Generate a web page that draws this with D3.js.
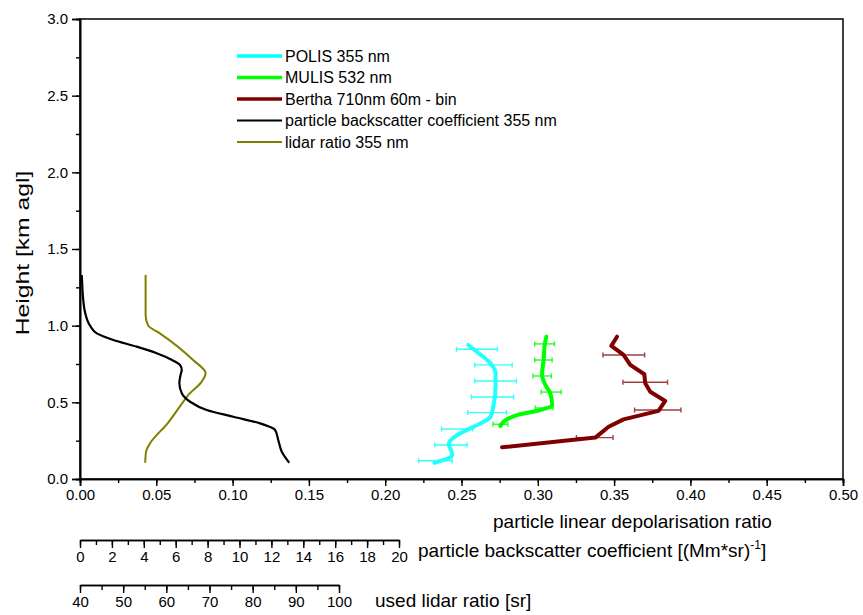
<!DOCTYPE html>
<html>
<head>
<meta charset="utf-8">
<script src="https://cdn.jsdelivr.net/npm/d3@7"></script>
<style>
  html, body { margin: 0; padding: 0; background: #fff; }
  svg { display: block; font-family: "Liberation Sans", Arial, sans-serif; }
</style>
</head>
<body>
<svg id="chart" width="863" height="615"></svg>
<script>
// Height grid and profiles (height in km agl)
const polisHeight = [0.874, 0.82, 0.755, 0.69, 0.602, 0.494, 0.406, 0.341, 0.287, 0.232, 0.157, 0.124, 0.106];
const polisDepol  = [0.2544, 0.2613, 0.269, 0.2723, 0.2723, 0.2712, 0.269, 0.258, 0.2472, 0.2417, 0.2439, 0.2384, 0.2323];
const polisErrHeight = [0.846, 0.744, 0.639, 0.535, 0.433, 0.326, 0.222, 0.119];
const polisErrLow    = [0.2467, 0.2587, 0.2587, 0.2565, 0.2541, 0.2369, 0.2325, 0.2219];
const polisErrHigh   = [0.2734, 0.2832, 0.286, 0.2842, 0.2795, 0.2574, 0.2537, 0.2439];

const mulisHeight = [0.928, 0.874, 0.787, 0.678, 0.613, 0.559, 0.483, 0.45, 0.417, 0.374, 0.346];
const mulisDepol  = [0.3056, 0.3045, 0.3039, 0.3028, 0.305, 0.3082, 0.3094, 0.3017, 0.2865, 0.2777, 0.2755];
const mulisErrHeight = [0.881, 0.776, 0.672, 0.567, 0.463, 0.357];
const mulisErrLow    = [0.298, 0.298, 0.2969, 0.3022, 0.2984, 0.2707];
const mulisErrHigh   = [0.3109, 0.3094, 0.3089, 0.3153, 0.31, 0.2803];

const berthaHeight = [0.928, 0.868, 0.809, 0.744, 0.683, 0.624, 0.569, 0.509, 0.444, 0.389, 0.341, 0.27, 0.207];
const berthaDepol  = [0.3519, 0.3482, 0.3562, 0.3606, 0.3698, 0.3704, 0.3737, 0.3835, 0.3791, 0.3562, 0.3464, 0.3377, 0.2766];
const berthaErrHeight = [0.809, 0.631, 0.45, 0.27];
const berthaErrLow    = [0.3427, 0.3558, 0.3634, 0.3253];
const berthaErrHigh   = [0.37, 0.385, 0.3938, 0.3493];

const bscHeight = [1.33, 1.29, 1.21, 1.09, 1.0, 0.95, 0.907, 0.863, 0.82, 0.776, 0.744, 0.711, 0.69, 0.624, 0.559, 0.504, 0.45, 0.406, 0.363, 0.32, 0.254, 0.178, 0.106];
const bscValue  = [0.11, 0.13, 0.17, 0.31, 0.63, 1.05, 2.09, 3.55, 4.81, 5.77, 6.27, 6.38, 6.33, 6.23, 6.38, 6.9, 7.94, 9.61, 11.29, 12.23, 12.43, 12.65, 13.12];

const lrHeight = [1.33, 1.07, 1.0, 0.95, 0.776, 0.69, 0.635, 0.548, 0.515, 0.363, 0.232, 0.178, 0.106];
const lrValue  = [55.2, 55.2, 55.8, 58.5, 66.2, 69.1, 68.2, 65.1, 64.2, 60.3, 56.2, 55.3, 55.1];

// Axis ticks
const heightTicks = [0, 0.5, 1.0, 1.5, 2.0, 2.5, 3.0];
const depolTicks  = [0, 0.05, 0.1, 0.15, 0.2, 0.25, 0.3, 0.35, 0.4, 0.45, 0.5];
const bscTicks    = [0, 2, 4, 6, 8, 10, 12, 14, 16, 18, 20];
const lrTicks     = [40, 50, 60, 70, 80, 90, 100];

const legendLabels = ["POLIS 355 nm", "MULIS 532 nm", "Bertha 710nm 60m - bin",
                      "particle backscatter coefficient 355 nm", "lidar ratio 355 nm"];

const svg = d3.select("#chart");

const y    = d3.scaleLinear().domain([0, 3]).range([479, 19]);
const xDep = d3.scaleLinear().domain([0, 0.5]).range([80, 843]);
const xBsc = d3.scaleLinear().domain([0, 20]).range([80, 399]);
const xLr  = d3.scaleLinear().domain([40, 100]).range([80, 339]);

const tickFont = "15px";

// Frame
svg.append("rect")
  .attr("x", xDep(0)).attr("y", y(3))
  .attr("width", xDep(0.5) - xDep(0)).attr("height", y(0) - y(3))
  .attr("fill", "none").attr("stroke", "#000").attr("stroke-width", 1.5);

function styleAxis(g) {
  g.select(".domain").attr("stroke", "#000").attr("stroke-width", 1.6);
  g.selectAll(".tick line").attr("stroke", "#000").attr("stroke-width", 1.4);
  g.selectAll(".tick text").attr("fill", "#000").style("font-size", tickFont)
    .style("font-family", "'Liberation Sans', Arial, sans-serif");
}

// Left axis: height
const minorH = d3.range(0, 3.001, 0.25);
svg.append("g").attr("transform", `translate(${xDep(0)},0)`)
  .call(d3.axisLeft(y).tickValues(minorH).tickSize(4).tickFormat(""))
  .call(styleAxis);
svg.append("g").attr("transform", `translate(${xDep(0)},0)`)
  .call(d3.axisLeft(y).tickValues(heightTicks).tickSize(8).tickPadding(4).tickFormat(d3.format(".1f")))
  .call(styleAxis);

// Bottom axis: depolarisation ratio
const minorD = d3.range(0, 0.5001, 0.025);
svg.append("g").attr("transform", `translate(0,${y(0)})`)
  .call(d3.axisBottom(xDep).tickValues(minorD).tickSize(4).tickFormat(""))
  .call(styleAxis);
svg.append("g").attr("transform", `translate(0,${y(0)})`)
  .call(d3.axisBottom(xDep).tickValues(depolTicks).tickSize(7).tickPadding(3).tickFormat(d3.format(".2f")))
  .call(styleAxis);

// Secondary axis: backscatter coefficient
const bscY = 540;
svg.append("g").attr("transform", `translate(0,${bscY})`)
  .call(d3.axisBottom(xBsc).tickValues(d3.range(0, 20.001, 1)).tickSize(5).tickFormat("").tickSizeOuter(0))
  .call(styleAxis);
svg.append("g").attr("transform", `translate(0,${bscY})`)
  .call(d3.axisBottom(xBsc).tickValues(bscTicks).tickSize(8).tickPadding(3).tickFormat(d3.format("d")).tickSizeOuter(0))
  .call(styleAxis);

// Secondary axis: lidar ratio
const lrY = 585;
svg.append("g").attr("transform", `translate(0,${lrY})`)
  .call(d3.axisBottom(xLr).tickValues(d3.range(40, 100.001, 5)).tickSize(5).tickFormat("").tickSizeOuter(0))
  .call(styleAxis);
svg.append("g").attr("transform", `translate(0,${lrY})`)
  .call(d3.axisBottom(xLr).tickValues(lrTicks).tickSize(8).tickPadding(3).tickFormat(d3.format("d")).tickSizeOuter(0))
  .call(styleAxis);

// Axis titles
svg.append("text").attr("x", 493).attr("y", 528)
  .style("font-size", "19px").text("particle linear depolarisation ratio");

const bscTitle = svg.append("text").attr("x", 418).attr("y", 557).style("font-size", "19px");
bscTitle.append("tspan").text("particle backscatter coefficient [(Mm*sr)");
bscTitle.append("tspan").attr("dy", -8).style("font-size", "12px").text("-1");
bscTitle.append("tspan").attr("dy", 8).text("]");

svg.append("text").attr("x", 375).attr("y", 607)
  .style("font-size", "19px").text("used lidar ratio [sr]");

svg.append("text")
  .attr("transform", `translate(29,253) rotate(-90) scale(1.3,1)`)
  .attr("text-anchor", "middle")
  .style("font-size", "19px").text("Height [km agl]");

// Profile lines
const plot = svg.append("g");

function profile(heights, values, xs, curve) {
  return d3.line().curve(curve)
    .x((d, i) => xs(values[i]))
    .y(d => y(d))(heights);
}

// lidar ratio
plot.append("path").attr("d", profile(lrHeight, lrValue, xLr, d3.curveMonotoneY))
  .attr("fill", "none").attr("stroke", "#808000").attr("stroke-width", 2);

// backscatter coefficient
plot.append("path").attr("d", profile(bscHeight, bscValue, xBsc, d3.curveMonotoneY))
  .attr("fill", "none").attr("stroke", "#000").attr("stroke-width", 2.2);

function errorBars(heights, low, high, color, opacity) {
  const g = plot.append("g").attr("stroke", color).attr("stroke-width", 1.4).attr("opacity", opacity);
  heights.forEach((h, i) => {
    const yy = y(h), x1 = xDep(low[i]), x2 = xDep(high[i]);
    g.append("line").attr("x1", x1).attr("x2", x2).attr("y1", yy).attr("y2", yy);
    g.append("line").attr("x1", x1).attr("x2", x1).attr("y1", yy - 2.5).attr("y2", yy + 2.5);
    g.append("line").attr("x1", x2).attr("x2", x2).attr("y1", yy - 2.5).attr("y2", yy + 2.5);
  });
}

errorBars(polisErrHeight, polisErrLow, polisErrHigh, "#00ffff", 0.8);
errorBars(mulisErrHeight, mulisErrLow, mulisErrHigh, "#00ff00", 0.85);
errorBars(berthaErrHeight, berthaErrLow, berthaErrHigh, "#800000", 0.75);

plot.append("path").attr("d", profile(polisHeight, polisDepol, xDep, d3.curveMonotoneY))
  .attr("fill", "none").attr("stroke", "#22ffff").attr("stroke-width", 4)
  .attr("stroke-linecap", "round").attr("stroke-linejoin", "round");
plot.append("path").attr("d", profile(mulisHeight, mulisDepol, xDep, d3.curveMonotoneY))
  .attr("fill", "none").attr("stroke", "#00ff00").attr("stroke-width", 4)
  .attr("stroke-linecap", "round").attr("stroke-linejoin", "round");
plot.append("path").attr("d", profile(berthaHeight, berthaDepol, xDep, d3.curveLinear))
  .attr("fill", "none").attr("stroke", "#800000").attr("stroke-width", 4)
  .attr("stroke-linecap", "round").attr("stroke-linejoin", "round");

// Legend
const legendColors = ["#00ffff", "#00ff00", "#800000", "#000000", "#808000"];
const legendWidths = [3.5, 3.5, 3.5, 2.2, 2.2];
const legend = svg.append("g");
legendLabels.forEach((lab, i) => {
  const ly = 56 + i * 21.5;
  legend.append("line").attr("x1", 237).attr("x2", 282).attr("y1", ly).attr("y2", ly)
    .attr("stroke", legendColors[i]).attr("stroke-width", legendWidths[i]);
  legend.append("text").attr("x", 285).attr("y", ly + 5.5)
    .style("font-size", "16px").text(lab);
});
</script>
</body>
</html>
